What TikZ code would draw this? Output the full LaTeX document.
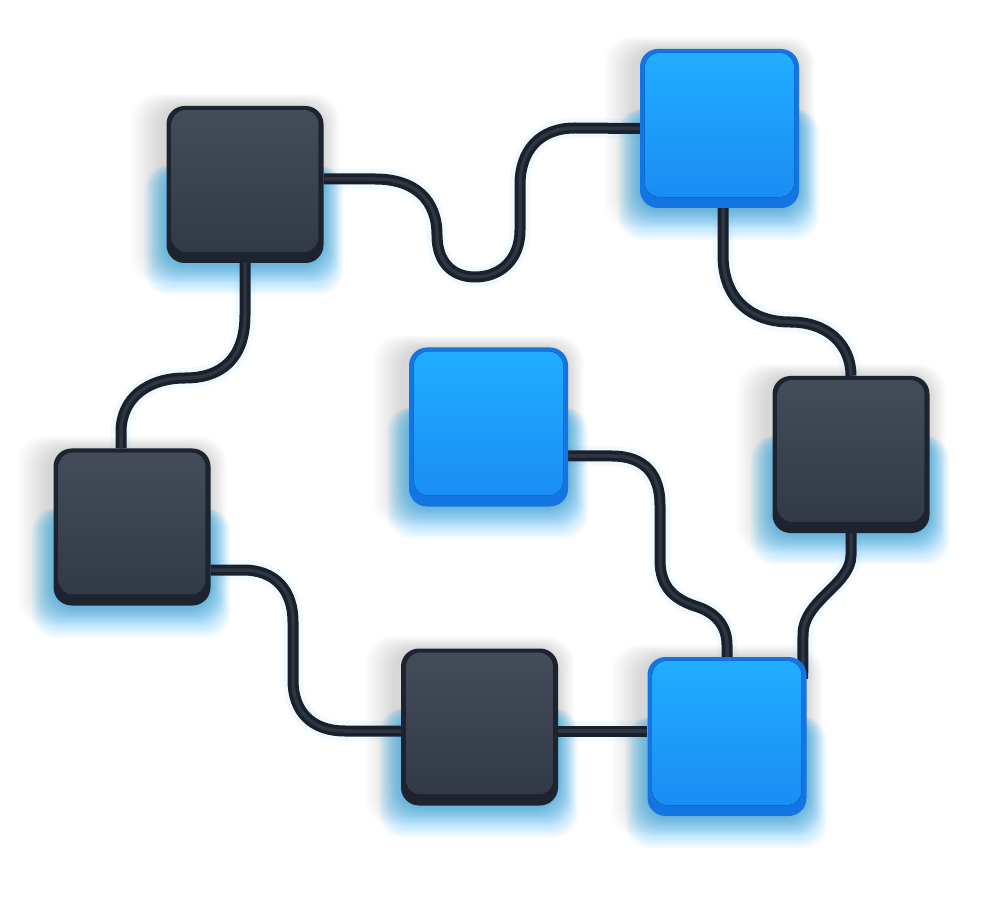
\documentclass[tikz,border=0pt]{standalone}
\pgfdeclarelayer{glowlayer}
\pgfdeclarelayer{wirelayer}
\pgfsetlayers{glowlayer,wirelayer,main}
\definecolor{darkbase}{HTML}{1D2430}
\definecolor{darktop}{HTML}{444C59}
\definecolor{darkbot}{HTML}{323A47}
\definecolor{bluebase}{HTML}{1275E2}
\definecolor{bluetop}{HTML}{20ADFF}
\definecolor{bluebot}{HTML}{1A8DF4}
\definecolor{wirecol}{HTML}{1A212C}
\definecolor{wirehi}{HTML}{2E3643}
\definecolor{glowcol}{HTML}{12B0FF}
\tikzset{
  box/.style={rounded corners=18pt, minimum width=157pt, minimum height=157pt, inner sep=0pt},
  darkbox/.style={box, fill=darkbase},
  bluebox/.style={box, fill=bluebase, minimum width=159pt, minimum height=159pt},
  wire/.style={draw=wirecol, line width=11pt,
    preaction={draw=glowcol, line width=20pt, opacity=0.05},
    postaction={draw=wirehi, line width=3.5pt}},
  darkface/.style={top color=darktop, bottom color=darkbot, rounded corners=15pt},
  blueface/.style={top color=bluetop, bottom color=bluebot, rounded corners=15pt},
  glowstep/.style={fill=glowcol, opacity=0.032, rounded corners=24pt},
  greystep/.style={fill=black, opacity=0.006, rounded corners=26pt}
}
\newcommand\boxface[2]{\fill[#2] ([xshift=5pt,yshift=-4pt]#1.north west) rectangle ([xshift=-5pt,yshift=11pt]#1.south east);}
\newcommand\boxglow[1]{%
  \foreach \k in {1,...,20}{%
    \fill[greystep] ([xshift={-6pt-\k*1.5pt},yshift={-\k*1pt}]#1.south west) rectangle ([xshift={\k*0.8pt},yshift={\k*0.6pt}]#1.north east);
    \fill[glowstep] ([xshift={-\k*1.1pt},yshift={-2pt-\k*1.5pt}]#1.south west) rectangle ([xshift={\k*1.0pt},yshift={-60pt}]#1.north east);
  }}
\begin{document}
\begin{tikzpicture}[x=1pt,y=1pt]
\useasboundingbox (0,0) rectangle (982,906);
\begin{pgfonlayer}{glowlayer}
\fill[white] (0,0) rectangle (982,906);
\end{pgfonlayer}
% boxes
\node[darkbox] (b1) at (245,721.5) {};
\node[bluebox] (b2) at (719.5,777.5) {};
\node[bluebox] (b3) at (488.5,479) {};
\node[darkbox] (b4) at (851,451.5) {};
\node[darkbox] (b5) at (132,379) {};
\node[darkbox] (b6) at (479.5,179) {};
\node[bluebox] (b7) at (727,169.5) {};
\boxface{b1}{darkface}
\boxface{b2}{blueface}
\boxface{b3}{blueface}
\boxface{b4}{darkface}
\boxface{b5}{darkface}
\boxface{b6}{darkface}
\boxface{b7}{blueface}
\begin{pgfonlayer}{glowlayer}
\boxglow{b1}\boxglow{b2}\boxglow{b3}\boxglow{b4}\boxglow{b5}\boxglow{b6}\boxglow{b7}
\end{pgfonlayer}
% wires
\begin{pgfonlayer}{wirelayer}
\draw[wire] ([yshift=5.5pt]b1.east) -- (375,727) .. controls (415,727) and (437,706) .. (437,671) .. controls (437,644) and (452,629) .. (475,629) .. controls (500,629) and (520,646) .. (520,676) -- (520,721) .. controls (520,756) and (540,778) .. (575,778) -- (b2.west);
\draw[wire] (b1.south) -- (245,591) .. controls (245,548) and (222,528) .. (185,528) .. controls (148,528) and (121,508) .. (121,474) -- ([xshift=-11pt]b5.north);
\draw[wire] ([xshift=3.5pt]b2.south) -- (723,651) .. controls (723,606) and (752,584) .. (790,584) .. controls (828,584) and (851,561) .. (b4.north);
\draw[wire] (b4.south) -- (851,351) .. controls (851,321) and (803,306) .. (803,271) -- ([xshift=-4pt,yshift=-22pt]b7.north east);
\draw[wire] ([yshift=-29pt]b3.east) -- (612,450) .. controls (645,450) and (660,431) .. (660,401) -- (660,346) .. controls (660,318) and (675,306) .. (698,299) .. controls (718,292) and (727,278) .. (727,261) -- (b7.north);
\draw[wire] ([yshift=-43pt]b5.east) -- (243,336) .. controls (275,336) and (293,316) .. (293,284) -- (293,226) .. controls (293,194) and (312,175) .. (345,175) -- ([yshift=-4pt]b6.west);
\draw[wire] ([yshift=-4pt]b6.east) -- ([yshift=5.5pt]b7.west);
\end{pgfonlayer}
\end{tikzpicture}
\end{document}
